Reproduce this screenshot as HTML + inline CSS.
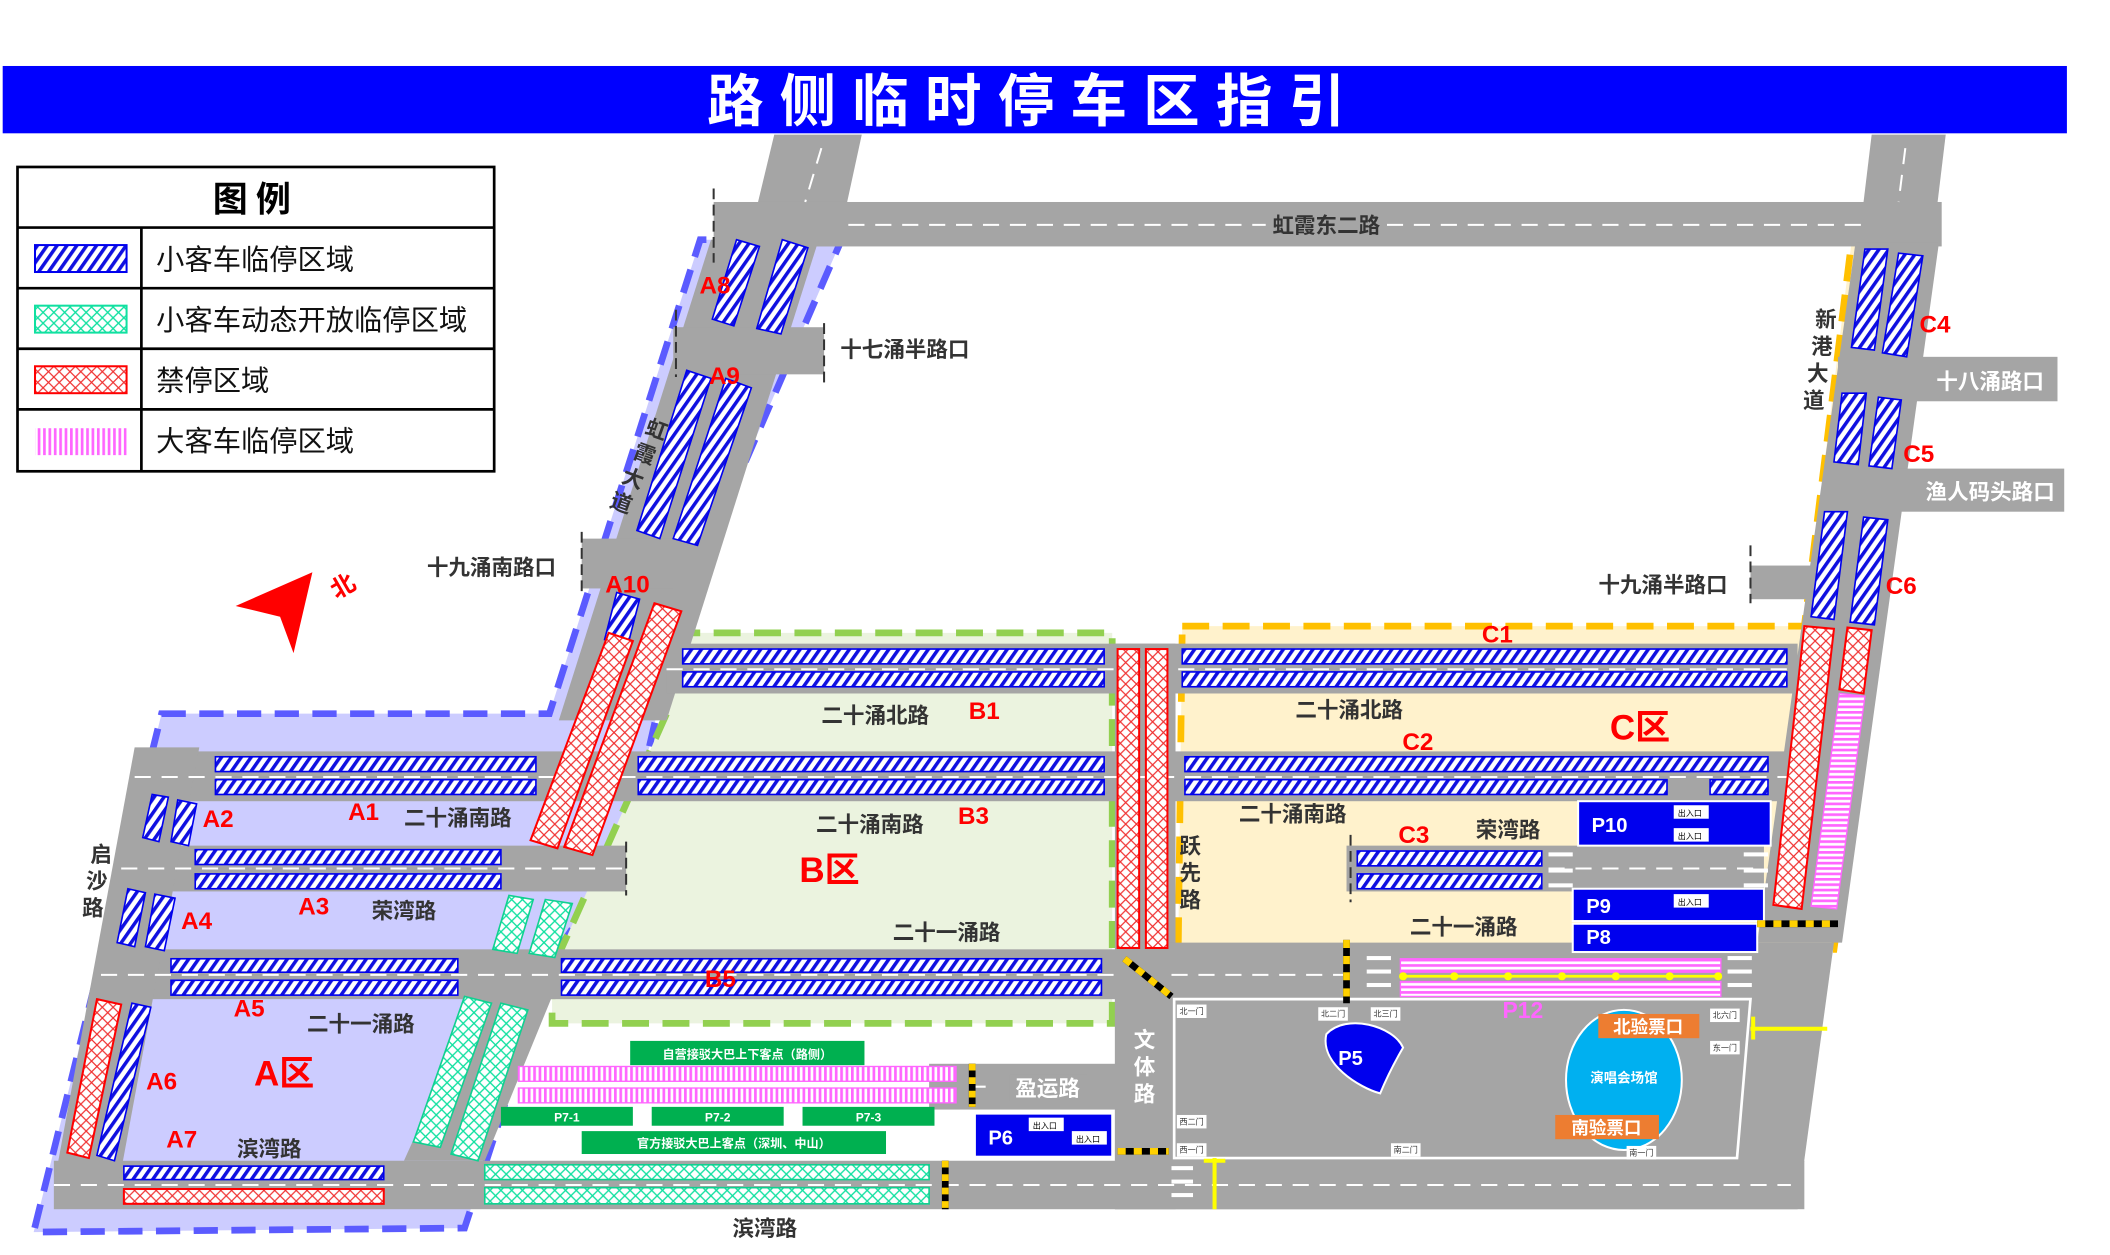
<!DOCTYPE html>
<html><head><meta charset="utf-8"><style>
html,body{margin:0;padding:0;background:#fff;}
svg{display:block;}
text{font-family:"Liberation Sans","Noto Sans CJK SC",sans-serif;}
</style></head><body>
<svg width="2110" height="1255" viewBox="0 0 1567 932" preserveAspectRatio="none" xmlns="http://www.w3.org/2000/svg">
<defs>
<pattern id="bh" patternUnits="userSpaceOnUse" width="6" height="6" patternTransform="rotate(35)"><rect width="6" height="6" fill="#fff"/><rect width="2.6" height="6" fill="#1010e0"/></pattern>
<pattern id="rx" patternUnits="userSpaceOnUse" width="8" height="8"><rect width="8" height="8" fill="#fff"/><path d="M0 0L8 8M8 0L0 8" stroke="#f03030" stroke-width="0.9"/></pattern>
<pattern id="gx" patternUnits="userSpaceOnUse" width="8" height="8"><rect width="8" height="8" fill="#fff"/><path d="M0 0L8 8M8 0L0 8" stroke="#10e0a0" stroke-width="1"/></pattern>
<pattern id="pv" patternUnits="userSpaceOnUse" width="4" height="4"><rect width="4" height="4" fill="#fff"/><rect width="2" height="4" fill="#ff66ff"/></pattern>
<pattern id="ph" patternUnits="userSpaceOnUse" width="4" height="4"><rect width="4" height="4" fill="#fff"/><rect width="4" height="2" fill="#ff66ff"/></pattern>
</defs>

<!-- banner -->
<rect x="2" y="49" width="1533" height="50" fill="#0000ff"/>
<text x="768" y="90" font-size="42" font-weight="bold" fill="#fff" text-anchor="middle" letter-spacing="12">路侧临时停车区指引</text>

<!-- zone backgrounds -->
<polygon points="120,530 408,530 520,178 625,178 505,455 465,630 410,712 345,912 25,915" fill="#ccccff"/>
<polygon points="120,530 408,530 520,178 625,178 505,455 465,630 410,712 345,912 25,915" fill="none" stroke="#5b5bff" stroke-width="5" stroke-dasharray="18,10"/>
<polygon points="500,470 826,470 826,760 410,760 410,720 495,530" fill="#ebf3df" stroke="#92d050" stroke-width="5" stroke-dasharray="20,10"/>
<polygon points="878,465 1340,465 1375,180 1435,180 1362,705 875,705" fill="#fff2cc" stroke="#ffc000" stroke-width="5" stroke-dasharray="20,10"/>

<!-- roads -->
<g fill="#a5a5a5">
<polygon points="575,100 640,100 622,183 555,183"/>
<rect x="530" y="150" width="912" height="33"/>
<polygon points="1390,100 1445,100 1435,183 1380,183"/>
<polygon points="528,178 608,178 495,535 415,535"/>
<rect x="500" y="243" width="112" height="35"/>
<rect x="432" y="400" width="68" height="37"/>
<polygon points="1378,180 1440,180 1368,700 1305,700"/>
<rect x="1365" y="265" width="163" height="33"/>
<rect x="1395" y="348" width="138" height="32"/>
<rect x="1300" y="420" width="45" height="25"/>
<rect x="100" y="558" width="1240" height="37"/>
<rect x="495" y="478" width="840" height="37"/>
<rect x="90" y="628" width="375" height="34"/>
<rect x="1000" y="628" width="310" height="34"/>
<rect x="75" y="705" width="760" height="37"/>
<rect x="40" y="862" width="1300" height="36"/>
<polygon points="100,555 148,555 88,880 40,880"/>
<rect x="828" y="478" width="45" height="420"/>
<polygon points="828,700 1362,700 1335,898 828,898"/>
<rect x="690" y="790" width="140" height="34"/>
<polygon points="355,740 410,740 360,862 300,862"/>
</g>
<!-- dashed center lines -->
<g stroke="#fff" stroke-width="1.5" stroke-dasharray="12,8" fill="none">
<line x1="630" y1="167" x2="1390" y2="167"/>
<line x1="610" y1="110" x2="598" y2="150"/>
<line x1="1415" y1="110" x2="1410" y2="150"/>
<line x1="495" y1="497" x2="1335" y2="497"/>
<line x1="100" y1="577" x2="1340" y2="577"/>
<line x1="90" y1="645" x2="465" y2="645"/>
<line x1="1150" y1="645" x2="1310" y2="645"/>
<line x1="75" y1="724" x2="830" y2="724"/>
<line x1="870" y1="724" x2="1000" y2="724"/>
<line x1="40" y1="880" x2="1330" y2="880"/>
<line x1="720" y1="807" x2="740" y2="807"/>
</g>
<g stroke="#333" stroke-width="1.5" stroke-dasharray="8,4">
<line x1="530" y1="140" x2="530" y2="195"/><line x1="612" y1="240" x2="612" y2="285"/><line x1="502" y1="230" x2="502" y2="280"/>
<line x1="432" y1="395" x2="432" y2="440"/><line x1="1300" y1="405" x2="1300" y2="448"/><line x1="1003" y1="620" x2="1003" y2="670"/>
<line x1="465" y1="625" x2="465" y2="665"/>
</g>

<!-- blue stalls -->
<g fill="url(#bh)" stroke="#0000ee" stroke-width="1.2">
<rect x="507" y="482" width="313" height="11"/><rect x="507" y="499" width="313" height="11"/>
<rect x="160" y="562" width="238" height="11"/><rect x="160" y="579" width="238" height="11"/>
<rect x="474" y="562" width="346" height="11"/><rect x="474" y="579" width="346" height="11"/>
<rect x="878" y="482" width="449" height="11"/><rect x="878" y="499" width="449" height="11"/>
<rect x="880" y="562" width="433" height="11"/><rect x="880" y="579" width="358" height="11"/><rect x="1270" y="579" width="43" height="11"/>
<rect x="145" y="631" width="227" height="11"/><rect x="145" y="649" width="227" height="11"/>
<rect x="1008" y="632" width="137" height="11"/><rect x="1008" y="649" width="137" height="11"/>
<rect x="127" y="712" width="213" height="10"/><rect x="127" y="728" width="213" height="11"/>
<rect x="417" y="712" width="401" height="10"/><rect x="417" y="728" width="401" height="11"/>
<rect x="92" y="866" width="193" height="10"/>
<polygon points="547,178 564,183 545,242 529,237"/>
<polygon points="581,178 600,184 580,248 562,244"/>
<polygon points="510,275 528,281 490,400 473,394"/>
<polygon points="539,281 558,288 518,405 500,400"/>
<polygon points="458,440 475,445 466,480 449,475"/>
<polygon points="113,590 125,592 118,625 106,622"/><polygon points="132,594 146,597 140,628 127,625"/>
<polygon points="95,660 108,663 100,703 87,700"/><polygon points="115,664 130,667 122,706 108,703"/>
<polygon points="98,745 112,748 85,862 72,858"/>
<polygon points="1385,185 1402,185 1392,260 1375,258"/><polygon points="1410,188 1428,190 1416,265 1398,262"/>
<polygon points="1368,292 1386,292 1380,345 1362,343"/><polygon points="1395,295 1412,297 1405,348 1388,346"/>
<polygon points="1355,380 1372,380 1362,460 1345,458"/><polygon points="1384,384 1402,386 1392,464 1374,462"/>
</g>
<!-- red stalls -->
<g fill="url(#rx)" stroke="#ff0000" stroke-width="1.5">
<rect x="830" y="482" width="16" height="222"/><rect x="851" y="482" width="16" height="222"/>
<rect x="92" y="883" width="193" height="11"/>
<polygon points="452,470 470,476 414,630 394,624"/>
<polygon points="486,448 506,454 440,635 419,629"/>
<polygon points="72,742 90,746 66,860 50,856"/>
<polygon points="1340,465 1362,467 1338,675 1317,672"/>
<polygon points="1372,466 1390,468 1384,515 1366,512"/>
</g>
<!-- green dynamic -->
<g fill="url(#gx)" stroke="#10d090" stroke-width="1.2">
<rect x="360" y="865" width="330" height="11"/><rect x="360" y="882" width="330" height="12"/>
<polygon points="378,665 396,668 384,708 366,705"/><polygon points="405,668 425,671 412,711 393,708"/>
<polygon points="345,740 365,745 327,852 307,848"/><polygon points="372,745 392,750 355,862 335,857"/>
</g>
<!-- pink -->
<polygon points="1366,515 1385,517 1364,675 1345,673" fill="url(#ph)" stroke="#ff66ff"/>
<rect x="1040" y="712" width="238" height="10" fill="url(#ph)" stroke="#ff66ff"/>
<rect x="1040" y="729" width="238" height="11" fill="url(#ph)" stroke="#ff66ff"/>
<line x1="1040" y1="725" x2="1278" y2="725" stroke="#ffff00" stroke-width="2"/>
<g fill="#ffff00"><circle cx="1042" cy="725" r="3"/><circle cx="1080" cy="725" r="3"/><circle cx="1120" cy="725" r="3"/><circle cx="1160" cy="725" r="3"/><circle cx="1200" cy="725" r="3"/><circle cx="1240" cy="725" r="3"/><circle cx="1276" cy="725" r="3"/></g>
<rect x="385" y="792" width="325" height="11" fill="url(#pv)" stroke="#ff66ff"/>
<rect x="385" y="808" width="325" height="11" fill="url(#pv)" stroke="#ff66ff"/>

<!-- venue block -->
<polygon points="872,742 1300,742 1290,860 872,860" fill="none" stroke="#fff" stroke-width="2"/>
<path d="M985,768 C1000,752 1035,762 1042,778 C1035,790 1030,800 1025,812 C1010,808 980,790 985,768Z" fill="#0000ee" stroke="#fff" stroke-width="1.5"/>
<text x="1003" y="791" font-size="15" font-weight="bold" fill="#fff" text-anchor="middle">P5</text>
<ellipse cx="1206" cy="802" rx="43" ry="52" fill="#00b0f0" stroke="#fff" stroke-width="1.5"/>
<text x="1206" y="804" font-size="10" font-weight="bold" fill="#fff" text-anchor="middle">演唱会场馆</text>
<rect x="1187" y="753" width="75" height="18" fill="#ed7d31"/><text x="1224" y="767" font-size="13" font-weight="bold" fill="#fff" text-anchor="middle">北验票口</text>
<rect x="1155" y="828" width="77" height="18" fill="#ed7d31"/><text x="1193" y="842" font-size="13" font-weight="bold" fill="#fff" text-anchor="middle">南验票口</text>
<g font-size="6" fill="#333" text-anchor="middle">
<rect x="874" y="746" width="22" height="10" fill="#fff"/><text x="885" y="753">北一门</text>
<rect x="979" y="748" width="22" height="10" fill="#fff"/><text x="990" y="755">北二门</text>
<rect x="1018" y="748" width="22" height="10" fill="#fff"/><text x="1029" y="755">北三门</text>
<rect x="1270" y="749" width="22" height="10" fill="#fff"/><text x="1281" y="756">北六门</text>
<rect x="1270" y="773" width="22" height="10" fill="#fff"/><text x="1281" y="780">东一门</text>
<rect x="874" y="828" width="22" height="10" fill="#fff"/><text x="885" y="835">西二门</text>
<rect x="874" y="849" width="22" height="10" fill="#fff"/><text x="885" y="856">西一门</text>
<rect x="1033" y="849" width="22" height="10" fill="#fff"/><text x="1044" y="856">南二门</text>
<rect x="1208" y="851" width="22" height="10" fill="#fff"/><text x="1219" y="858">南一门</text>
</g>
<g fill="#0000ee" stroke="#fff" stroke-width="1.5">
<rect x="1172" y="595" width="143" height="33"/><rect x="1168" y="660" width="142" height="24"/><rect x="1168" y="686" width="137" height="21"/><rect x="724" y="827" width="102" height="32"/>
</g>
<g font-size="15" font-weight="bold" fill="#fff">
<text x="1182" y="618">P10</text><text x="1178" y="678">P9</text><text x="1178" y="701">P8</text><text x="734" y="850">P6</text>
</g>
<g font-size="6" fill="#000"><rect x="1243" y="598" width="26" height="10" fill="#fff"/><text x="1246" y="606">出入口</text>
<rect x="1243" y="615" width="26" height="10" fill="#fff"/><text x="1246" y="623">出入口</text>
<rect x="1243" y="664" width="26" height="10" fill="#fff"/><text x="1246" y="672">出入口</text>
<rect x="764" y="830" width="26" height="10" fill="#fff"/><text x="767" y="838">出入口</text>
<rect x="796" y="840" width="26" height="10" fill="#fff"/><text x="799" y="848">出入口</text></g>
<g fill="#00b050"><rect x="468" y="773" width="174" height="18"/><rect x="372" y="822" width="98" height="14"/><rect x="484" y="822" width="98" height="14"/><rect x="596" y="822" width="98" height="14"/><rect x="432" y="840" width="226" height="17"/></g>
<g fill="#fff" font-size="9" font-weight="bold" text-anchor="middle">
<text x="555" y="786">自营接驳大巴上下客点（路侧）</text><text x="421" y="833">P7-1</text><text x="533" y="833">P7-2</text><text x="645" y="833">P7-3</text><text x="545" y="852">官方接驳大巴上客点（深圳、中山）</text>
</g>
<g stroke-width="5">
<line x1="1305" y1="686" x2="1365" y2="686" stroke="#000"/><line x1="1305" y1="686" x2="1365" y2="686" stroke="#ffd000" stroke-dasharray="6,6"/>
<line x1="1000" y1="698" x2="1000" y2="745" stroke="#000"/><line x1="1000" y1="698" x2="1000" y2="745" stroke="#ffd000" stroke-dasharray="6,6"/>
<line x1="835" y1="712" x2="870" y2="740" stroke="#000"/><line x1="835" y1="712" x2="870" y2="740" stroke="#ffd000" stroke-dasharray="6,6"/>
<line x1="830" y1="855" x2="868" y2="855" stroke="#000"/><line x1="830" y1="855" x2="868" y2="855" stroke="#ffd000" stroke-dasharray="6,6"/>
<line x1="722" y1="790" x2="722" y2="822" stroke="#000"/><line x1="722" y1="790" x2="722" y2="822" stroke="#ffd000" stroke-dasharray="5,5"/>
<line x1="702" y1="862" x2="702" y2="898" stroke="#000"/><line x1="702" y1="862" x2="702" y2="898" stroke="#ffd000" stroke-dasharray="5,5"/>
</g>
<g stroke="#ffff00" stroke-width="3"><line x1="1300" y1="764" x2="1357" y2="764"/><line x1="1302" y1="755" x2="1302" y2="772"/><line x1="902" y1="860" x2="902" y2="898"/><line x1="894" y1="862" x2="910" y2="862"/></g>
<g fill="#fff"><rect x="1015" y="710" width="18" height="3"/><rect x="1015" y="720" width="18" height="3"/><rect x="1015" y="730" width="18" height="3"/><rect x="1283" y="710" width="18" height="3"/><rect x="1283" y="720" width="18" height="3"/><rect x="1283" y="730" width="18" height="3"/>
<rect x="1150" y="633" width="18" height="3"/><rect x="1150" y="645" width="18" height="3"/><rect x="1150" y="656" width="18" height="3"/><rect x="1295" y="633" width="18" height="3"/><rect x="1295" y="645" width="18" height="3"/><rect x="1295" y="656" width="18" height="3"/>
<rect x="870" y="866" width="16" height="3"/><rect x="870" y="876" width="16" height="3"/><rect x="870" y="886" width="16" height="3"/></g>

<!-- legend -->
<rect x="13" y="124" width="354" height="226" fill="#fff" stroke="#000" stroke-width="2"/>
<g stroke="#000" stroke-width="2"><line x1="13" y1="169" x2="367" y2="169"/><line x1="13" y1="214" x2="367" y2="214"/><line x1="13" y1="259" x2="367" y2="259"/><line x1="13" y1="304" x2="367" y2="304"/><line x1="105" y1="169" x2="105" y2="350"/></g>
<text x="190" y="157" font-size="26" font-weight="bold" text-anchor="middle" letter-spacing="6">图例</text>
<rect x="26" y="182" width="68" height="20" fill="url(#bh)" stroke="#0000ee" stroke-width="1.5"/>
<rect x="26" y="227" width="68" height="20" fill="url(#gx)" stroke="#10e0a0" stroke-width="1.5"/>
<rect x="26" y="272" width="68" height="20" fill="url(#rx)" stroke="#ff0000" stroke-width="1.5"/>
<rect x="26" y="318" width="68" height="20" fill="url(#pv)"/>
<g font-size="21" fill="#111"><text x="116" y="200">小客车临停区域</text><text x="116" y="245">小客车动态开放临停区域</text><text x="116" y="290">禁停区域</text><text x="116" y="335">大客车临停区域</text></g>

<polygon points="175,450 232,425 218,485 208,458" fill="#ff0000"/>
<text x="247" y="446" font-size="18" font-weight="bold" fill="#ff0000" transform="rotate(-30 247 440)">北</text>

<g font-size="16" font-weight="bold" fill="#333" text-anchor="middle">
<rect x="940" y="157" width="90" height="20" fill="#a5a5a5"/>
<text x="985" y="173">虹霞东二路</text>
<text x="672" y="265">十七涌半路口</text><text x="365" y="427">十九涌南路口</text><text x="1235" y="440">十九涌半路口</text>
<text x="650" y="537">二十涌北路</text><text x="340" y="613">二十涌南路</text><text x="646" y="618">二十涌南路</text>
<text x="300" y="682">荣湾路</text><text x="703" y="698">二十一涌路</text><text x="268" y="766">二十一涌路</text>
<text x="200" y="859">滨湾路</text><text x="568" y="918">滨湾路</text><text x="1002" y="533">二十涌北路</text>
<text x="960" y="610">二十涌南路</text><text x="1120" y="622">荣湾路</text><text x="1087" y="694">二十一涌路</text>
</g>
<g font-size="16" font-weight="bold" fill="#fff" text-anchor="middle">
<text x="1478" y="289">十八涌路口</text><text x="1478" y="371">渔人码头路口</text>
<rect x="750" y="798" width="58" height="20" fill="#a5a5a5"/><text x="778" y="814">盈运路</text>
<text x="850" y="778">文</text><text x="850" y="798">体</text><text x="850" y="818">路</text>
</g>
<g font-size="16" font-weight="bold" fill="#333" text-anchor="middle">
<text x="75" y="640">启</text><text x="72" y="660">沙</text><text x="69" y="680">路</text>
<text x="1356" y="243">新</text><text x="1353" y="263">港</text><text x="1350" y="283">大</text><text x="1347" y="303">道</text>
<text x="884" y="634">跃</text><text x="884" y="654">先</text><text x="884" y="674">路</text>
<g transform="rotate(20 475 345)"><text x="478" y="322">虹</text><text x="476" y="342">霞</text><text x="474" y="362">大</text><text x="472" y="382">道</text></g>
</g>
<g font-size="18" font-weight="bold" fill="#ff0000" text-anchor="middle">
<text x="531" y="218">A8</text><text x="538" y="285">A9</text><text x="466" y="440">A10</text><text x="162" y="614">A2</text><text x="270" y="609">A1</text>
<text x="731" y="534">B1</text><text x="723" y="612">B3</text><text x="233" y="679">A3</text><text x="146" y="690">A4</text><text x="185" y="755">A5</text>
<text x="535" y="733">B5</text><text x="120" y="809">A6</text><text x="135" y="852">A7</text><text x="1112" y="477">C1</text><text x="1053" y="557">C2</text>
<text x="1050" y="626">C3</text><text x="1437" y="247">C4</text><text x="1425" y="343">C5</text><text x="1412" y="441">C6</text>
</g>
<g font-size="26" font-weight="bold" fill="#ff0000" text-anchor="middle"><text x="211" y="806">A区</text><text x="616" y="655">B区</text><text x="1218" y="549">C区</text></g>
<text x="1131" y="756" font-size="17" font-weight="bold" fill="#ff66ff" text-anchor="middle">P12</text>
</svg>
</body></html>
